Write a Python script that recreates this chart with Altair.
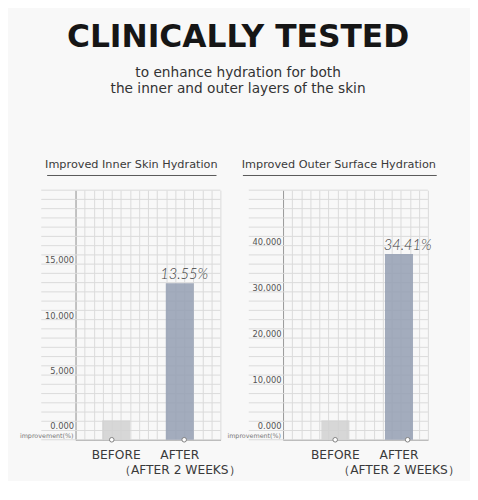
import altair as alt
import pandas as pd

# ---------------- data ----------------
categories = ["BEFORE", "AFTER"]
inner_values = [1750, 14100]
outer_values = [4200, 40200]
inner_pct = ["", "13.55%"]
outer_pct = ["", "34.41%"]
inner_ticks = [0, 5000, 10000, 15000]
outer_ticks = [0, 10000, 20000, 30000, 40000]
panel_titles = ["Improved Inner Skin Hydration", "Improved Outer Surface Hydration"]
main_title = "CLINICALLY TESTED"
sub_title = ["to enhance hydration for both", "the inner and outer layers of the skin"]
baseline_label = "improvement(%)"
after_note = "（AFTER 2 WEEKS）"

FONT = "DejaVu Sans"
GRID = "#dadada"
AXIS = "#9a9a9a"
TEXT = "#3a3a3a"
W, H = 148, 255


def panel(values, pcts, ticks, ymax, per_tick, title, title_dx, p_outer, p_align, u0, u1):
    df = pd.DataFrame({"cat": categories, "val": values, "pct": pcts})
    tick_step = ticks[1] - ticks[0]
    n_lines = round(ymax * per_tick / tick_step)
    grid_df = pd.DataFrame({"g": [i * tick_step / per_tick for i in range(n_lines + 1)]})

    yscale = alt.Scale(domain=[0, ymax], nice=False, zero=True)
    xscale = alt.Scale(domain=categories, paddingInner=0.56, paddingOuter=p_outer, align=p_align)
    label_expr = "datum.value == 0 ? '0.000' : format(datum.value, ',')"
    yaxis = alt.Axis(title=None, values=ticks, grid=False, ticks=False, domainColor=AXIS,
                     labelFont=FONT, labelFontSize=8.5, labelColor="#555555",
                     labelPadding=2, labelOffset=-14, labelExpr=label_expr)

    hgrid = alt.Chart(grid_df).mark_rule(color=GRID, strokeWidth=1).encode(
        y=alt.Y("g:Q", scale=yscale, axis=yaxis),
        x=alt.value(-35),
        x2=alt.value(W),
    )

    vgrid = alt.Chart(df).mark_point(opacity=0).encode(
        x=alt.X(datum=0, type="quantitative", scale=alt.Scale(domain=[0, 16], nice=False),
                axis=alt.Axis(orient="top", values=list(range(17)), grid=True, gridColor=GRID,
                              labels=False, ticks=False, domain=False, title=None)),
    )

    bars = alt.Chart(df).mark_bar(opacity=0.88).encode(
        x=alt.X("cat:N", sort=categories, scale=xscale,
                axis=alt.Axis(title=None, labelAngle=0, ticks=False, domain=True, domainColor=AXIS,
                              labelFont=FONT, labelFontSize=12.5, labelColor=TEXT, labelPadding=9,
                              labelBaseline="top", labelLineHeight=15,
                              labelExpr="datum.value == 'AFTER' ? ['AFTER', '" + after_note + "'] : datum.value")),
        y=alt.Y("val:Q", scale=yscale, axis=yaxis),
        color=alt.Color("cat:N", sort=categories, legend=None,
                        scale=alt.Scale(domain=categories, range=["#d2d2d2", "#96a0b4"])),
    )

    pct = alt.Chart(df).mark_text(dy=-9, font="Lato", fontStyle="italic", fontWeight=300,
                                  fontSize=15, color="#3c3c3c").encode(
        x=alt.X("cat:N", sort=categories, scale=xscale, axis=None),
        y=alt.Y("val:Q", scale=yscale, axis=yaxis),
        text="pct:N",
    )

    dots = alt.Chart(df).mark_point(shape="circle", filled=True, fill="white", stroke="#808080",
                                    strokeWidth=1, size=22, opacity=1).encode(
        x=alt.X("cat:N", sort=categories, scale=xscale, axis=None),
        y=alt.Y(datum=0, type="quantitative", scale=yscale, axis=yaxis),
    )

    base_lbl = alt.Chart(pd.DataFrame({"t": [baseline_label]})).mark_text(
        align="right", baseline="bottom", dy=-1, font=FONT, fontSize=6.5, color="#777777").encode(
        x=alt.value(-2),
        y=alt.Y(datum=0, type="quantitative", scale=yscale, axis=yaxis),
        text="t:N",
    )

    underline = alt.Chart(pd.DataFrame({"t": [title]})).mark_rule(color="#555555", strokeWidth=1).encode(
        x=alt.value(u0), x2=alt.value(u1), y=alt.value(-15),
    )

    return alt.layer(hgrid, vgrid, bars, pct, dots, base_lbl, underline).resolve_scale(
        x="independent"
    ).properties(
        width=W, height=H,
        title=alt.TitleParams(title, font=FONT, fontSize=11.5, fontWeight="normal", color=TEXT,
                              anchor="middle", dx=title_dx, offset=5),
    )


left = panel(inner_values, inner_pct, inner_ticks, 22500, 6, panel_titles[0], -17, 0.418, 0.5, -29, 144)
right = panel(outer_values, outer_pct, outer_ticks, 54000, 5, panel_titles[1], -17, 0.418, 0.72, -41, 157)

chart = alt.hconcat(left, right, spacing=64, bounds="flush").properties(
    title=alt.TitleParams(main_title, subtitle=sub_title, font=FONT, fontSize=32, fontWeight="bold",
                          color="#161616", subtitleFont=FONT, subtitleFontSize=14,
                          subtitleColor="#333333", subtitleLineHeight=17, subtitlePadding=12,
                          anchor="middle", dx=-2, offset=63),
    padding={"left": 12, "top": 9, "right": 10, "bottom": 0},
    background="#f8f8f8",
).configure_view(stroke=None)

chart.save("out.html", embed_options={"renderer": "svg", "actions": False})
